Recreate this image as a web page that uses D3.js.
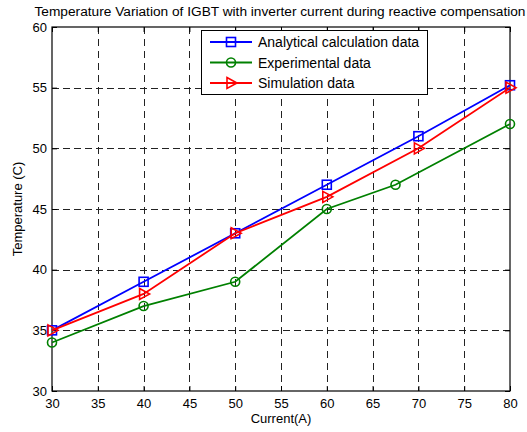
<!DOCTYPE html>
<html>
<head>
<meta charset="utf-8">
<script src="https://cdn.jsdelivr.net/npm/d3@7"></script>
<style>
  body { margin: 0; background: #fff; }
  text { font-family: "Liberation Sans", Arial, sans-serif; fill: #000; }
</style>
</head>
<body>
<svg id="draw"></svg>
<script>
// values
var currentX = [30, 40, 50, 60, 70, 80];
var analytical = [35, 39, 43, 47, 51, 55.2];
var experimentalX = [30, 40, 50, 60, 67.5, 80];
var experimental = [34, 37, 39, 45, 47, 52];
var simulation = [35, 38, 43, 46, 50, 55];
var xTicks = [30, 35, 40, 45, 50, 55, 60, 65, 70, 75, 80];
var yTicks = [30, 35, 40, 45, 50, 55, 60];

var W = 527, H = 432;
var margin = {top: 27, right: 17, bottom: 41, left: 52};
var width = W - margin.left - margin.right;
var height = H - margin.top - margin.bottom;

var svg = d3.select("#draw").attr("width", W).attr("height", H);

var xScale = d3.scaleLinear().domain([30, 80]).range([0, width]);
var yScale = d3.scaleLinear().domain([30, 60]).range([height, 0]);

var g = svg.append("g")
  .attr("transform", "translate(" + margin.left + "," + margin.top + ")");

// dashed grid
g.selectAll(".vgrid")
  .data(xTicks.slice(1, -1))
  .enter().append("line")
  .attr("x1", function(d) { return Math.round(xScale(d)) + 0.5; })
  .attr("x2", function(d) { return Math.round(xScale(d)) + 0.5; })
  .attr("y1", 0).attr("y2", height)
  .attr("stroke", "#222").attr("stroke-width", 1)
  .attr("stroke-dasharray", "7,5");

g.selectAll(".hgrid")
  .data(yTicks.slice(1, -1))
  .enter().append("line")
  .attr("y1", function(d) { return Math.round(yScale(d)) + 0.5; })
  .attr("y2", function(d) { return Math.round(yScale(d)) + 0.5; })
  .attr("x1", 0).attr("x2", width)
  .attr("stroke", "#222").attr("stroke-width", 1)
  .attr("stroke-dasharray", "7,4");

// axes with inward ticks on all sides
function styleAxis(sel) {
  sel.select(".domain").remove();
  sel.selectAll("line").attr("stroke", "#000");
  sel.selectAll("text").style("font-size", "13px")
    .style("font-family", "'Liberation Sans', Arial, sans-serif");
}

g.append("g")
  .attr("transform", "translate(0," + height + ")")
  .call(d3.axisBottom(xScale).tickValues(xTicks).tickSizeInner(-5).tickSizeOuter(0).tickPadding(8))
  .call(styleAxis);

g.append("g")
  .call(d3.axisTop(xScale).tickValues(xTicks).tickSizeInner(-5).tickSizeOuter(0).tickFormat(""))
  .call(styleAxis);

g.append("g")
  .call(d3.axisLeft(yScale).tickValues(yTicks).tickSizeInner(-5).tickSizeOuter(0).tickPadding(5))
  .call(styleAxis);

g.append("g")
  .attr("transform", "translate(" + width + ",0)")
  .call(d3.axisRight(yScale).tickValues(yTicks).tickSizeInner(-5).tickSizeOuter(0).tickFormat(""))
  .call(styleAxis);

g.append("rect")
  .attr("x", 0).attr("y", 0)
  .attr("width", width).attr("height", height)
  .attr("fill", "none").attr("stroke", "#000").attr("stroke-width", 1.2);

// series
var series = [
  {name: "Analytical calculation data", xs: currentX, ys: analytical, color: "#0000ff", marker: "square"},
  {name: "Experimental data", xs: experimentalX, ys: experimental, color: "#008000", marker: "circle"},
  {name: "Simulation data", xs: currentX, ys: simulation, color: "#ff0000", marker: "triangle"}
];

var line = d3.line()
  .x(function(d) { return xScale(d[0]); })
  .y(function(d) { return yScale(d[1]); });

function drawMarker(sel, type, color) {
  if (type == "square") {
    sel.append("rect")
      .attr("x", -4.5).attr("y", -4.5).attr("width", 9).attr("height", 9)
      .attr("fill", "none").attr("stroke", color).attr("stroke-width", 1.6);
  } else if (type == "circle") {
    sel.append("circle")
      .attr("r", 4.5)
      .attr("fill", "none").attr("stroke", color).attr("stroke-width", 1.6);
  } else {
    sel.append("path")
      .attr("d", "M-4,-5.5L6,0L-4,5.5Z")
      .attr("fill", "none").attr("stroke", color).attr("stroke-width", 1.6);
  }
}

series.forEach(function(s) {
  var pts = s.xs.map(function(x, i) { return [x, s.ys[i]]; });
  g.append("path")
    .datum(pts)
    .attr("d", line)
    .attr("fill", "none")
    .attr("stroke", s.color)
    .attr("stroke-width", 1.8);
  g.selectAll(".m-" + s.marker)
    .data(pts)
    .enter().append("g")
    .attr("transform", function(d) { return "translate(" + xScale(d[0]) + "," + yScale(d[1]) + ")"; })
    .each(function() { drawMarker(d3.select(this), s.marker, s.color); });
});

// legend
var legend = svg.append("g").attr("transform", "translate(201,30)");
legend.append("rect")
  .attr("x", 0.5).attr("y", 0.5).attr("width", 226).attr("height", 64)
  .attr("fill", "#fff").attr("stroke", "#000").attr("stroke-width", 1);

series.forEach(function(s, i) {
  var row = legend.append("g").attr("transform", "translate(0," + (12 + i * 20.5) + ")");
  row.append("line")
    .attr("x1", 9).attr("x2", 51).attr("y1", 0).attr("y2", 0)
    .attr("stroke", s.color).attr("stroke-width", 1.8);
  var m = row.append("g").attr("transform", "translate(30,0)");
  drawMarker(m, s.marker, s.color);
  row.append("text")
    .attr("x", 57).attr("y", 5)
    .style("font-size", "14px")
    .text(s.name);
});

// titles
svg.append("text")
  .attr("x", 280).attr("y", 16)
  .attr("text-anchor", "middle")
  .style("font-size", "13.7px")
  .text("Temperature Variation of IGBT with inverter current during reactive compensation");

svg.append("text")
  .attr("x", margin.left + width / 2).attr("y", 423)
  .attr("text-anchor", "middle")
  .style("font-size", "13px")
  .text("Current(A)");

svg.append("text")
  .attr("transform", "translate(22," + (margin.top + height / 2) + ") rotate(-90)")
  .attr("text-anchor", "middle")
  .style("font-size", "13px")
  .text("Temperature (C)");
</script>
</body>
</html>
